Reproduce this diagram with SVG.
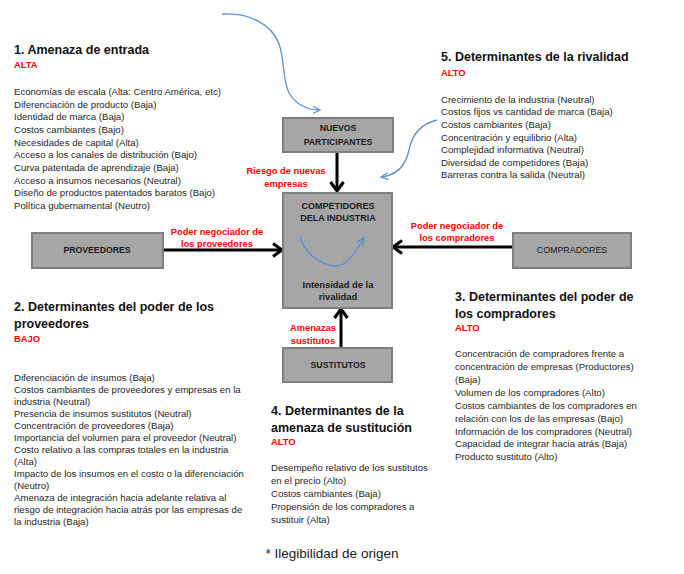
<svg xmlns="http://www.w3.org/2000/svg" width="684" height="574" viewBox="0 0 684 574">
<style>
text{font-family:"Liberation Sans",Arial,sans-serif}
.h{font-size:12.5px;font-weight:bold;fill:#111}
.r{font-size:9.4px;font-weight:bold;fill:#ff0000}
.i{font-size:9.6px;fill:#262626}
.lbl{font-size:9.3px;font-weight:bold;fill:#ff0000;text-anchor:middle}
.box{fill:#a6a6a6;stroke:#7f7f7f;stroke-width:2}
.bt{font-size:8.7px;font-weight:bold;fill:#1a1a1a;text-anchor:middle}
.ct{font-size:9px;font-weight:bold;fill:#1a1a1a;text-anchor:middle}
.arr{stroke:#000;stroke-width:3;fill:none}
.blue{stroke:#5b8fd4;stroke-width:1.3;fill:none}
</style>
<defs>
<marker id="ah" markerUnits="userSpaceOnUse" markerWidth="14" markerHeight="16" refX="11" refY="8" orient="auto">
<path d="M2,1.5 L11,8 L2,14.5" fill="none" stroke="#000" stroke-width="3"/>
</marker>
<marker id="bh" markerUnits="userSpaceOnUse" markerWidth="10" markerHeight="10" refX="8" refY="5" orient="auto">
<path d="M1,1.5 L8,5 L1,8.5" fill="none" stroke="#5b8fd4" stroke-width="1.3"/>
</marker>
</defs>

<g id="connectors">
<line class="arr" x1="337" y1="153" x2="337" y2="191" marker-end="url(#ah)"/>
<line class="arr" x1="164" y1="250" x2="282" y2="250" marker-end="url(#ah)"/>
<line class="arr" x1="512" y1="247" x2="393" y2="247" marker-end="url(#ah)"/>
<line class="arr" x1="341" y1="347" x2="341" y2="309" marker-end="url(#ah)"/>
<path class="blue" d="M222,14 C250,12 272,25 279,44 C285,60 282,78 289,93 C297,106 308,110 320,110" marker-end="url(#bh)"/>
<path class="blue" d="M437,120 C420,124 412,135 409,150 C406,165 398,175 381,177" marker-end="url(#bh)"/>
<text class="lbl" x="286" y="174">Riesgo de nuevas</text>
<text class="lbl" x="286" y="187">empresas</text>
<text class="lbl" x="217" y="234.5">Poder negociador de</text>
<text class="lbl" x="217" y="246.5">los proveedores</text>
<text class="lbl" x="457" y="228.5">Poder negociador de</text>
<text class="lbl" x="457" y="240.5">los compradores</text>
<text class="lbl" x="313" y="330.5">Amenazas</text>
<text class="lbl" x="313" y="343.5">sustitutos</text>
</g>

<g id="nuevos">
<rect class="box" x="283" y="118" width="110" height="34"/>
<text class="bt" x="338" y="131">NUEVOS</text>
<text class="bt" x="338" y="145">PARTICIPANTES</text>
</g>

<g id="competidores">
<rect class="box" x="283" y="193" width="109" height="115"/>
<text class="ct" x="338" y="209">COMPETIDORES</text>
<text class="ct" x="338" y="221">DELA INDUSTRIA</text>
<path class="blue" d="M300,237 C304,252 320,265 335,266 C349,266 356,250 364,238" marker-end="url(#bh)"/>
<text class="ct" style="font-size:9.4px" x="338" y="288">Intensidad de la</text>
<text class="ct" style="font-size:9.4px" x="338" y="300">rivalidad</text>
</g>

<g id="proveedores">
<rect class="box" x="32" y="233" width="131" height="35"/>
<text class="bt" x="97" y="253">PROVEEDORES</text>
</g>

<g id="compradores">
<rect class="box" x="513" y="233" width="118" height="35"/>
<text class="bt" style="font-weight:normal;font-size:8.9px" x="572" y="253">COMPRADORES</text>
</g>

<g id="sustitutos">
<rect class="box" x="283" y="348" width="109" height="34"/>
<text class="bt" x="338" y="368">SUSTITUTOS</text>
</g>

<g id="sec1">
<text class="h" x="14" y="54">1. Amenaza de entrada</text>
<text class="r" x="14" y="68">ALTA</text>
<text class="i" x="14" y="95">Economías de escala (Alta: Centro América, etc)</text>
<text class="i" x="14" y="107.7">Diferenciación de producto (Baja)</text>
<text class="i" x="14" y="120.3">Identidad de marca (Baja)</text>
<text class="i" x="14" y="133">Costos cambiantes (Bajo)</text>
<text class="i" x="14" y="145.6">Necesidades de capital (Alta)</text>
<text class="i" x="14" y="158.3">Acceso a los canales de distribución (Bajo)</text>
<text class="i" x="14" y="170.9">Curva patentada de aprendizaje (Baja)</text>
<text class="i" x="14" y="183.6">Acceso a insumos necesarios (Neutral)</text>
<text class="i" x="14" y="196.2">Diseño de productos patentados baratos (Bajo)</text>
<text class="i" x="14" y="208.9">Política gubernamental (Neutro)</text>
</g>

<g id="sec5">
<text class="h" x="441" y="61">5. Determinantes de la rivalidad</text>
<text class="r" x="441" y="76">ALTO</text>
<text class="i" x="441" y="102.8">Crecimiento de la industria (Neutral)</text>
<text class="i" x="441" y="115.4">Costos fijos  vs cantidad de marca (Baja)</text>
<text class="i" x="441" y="128">Costos cambiantes (Baja)</text>
<text class="i" x="441" y="140.6">Concentración y equilibrio (Alta)</text>
<text class="i" x="441" y="153.2">Complejidad informativa (Neutral)</text>
<text class="i" x="441" y="165.8">Diversidad de competidores (Baja)</text>
<text class="i" x="441" y="178.4">Barreras contra la salida (Neutral)</text>
</g>

<g id="sec2">
<text class="h" x="14" y="311">2. Determinantes del poder de los</text>
<text class="h" x="14" y="328">proveedores</text>
<text class="r" x="14" y="342">BAJO</text>
<text class="i" x="14" y="381">Diferenciación de insumos (Baja)</text>
<text class="i" x="14" y="393">Costos cambiantes de proveedores y empresas en la</text>
<text class="i" x="14" y="405">industria (Neutral)</text>
<text class="i" x="14" y="417">Presencia de insumos sustitutos (Neutral)</text>
<text class="i" x="14" y="429">Concentración de proveedores (Baja)</text>
<text class="i" x="14" y="441">Importancia del volumen para el proveedor (Neutral)</text>
<text class="i" x="14" y="453">Costo relativo a las compras totales en la industria</text>
<text class="i" x="14" y="465">(Alta)</text>
<text class="i" x="14" y="477">Impacto de los insumos en el costo o la diferenciación</text>
<text class="i" x="14" y="489">(Neutro)</text>
<text class="i" x="14" y="501">Amenaza de integración hacia adelante relativa al</text>
<text class="i" x="14" y="513">riesgo de integración hacia atrás por las empresas de</text>
<text class="i" x="14" y="525">la industria (Baja)</text>
</g>

<g id="sec3">
<text class="h" x="455" y="301">3. Determinantes del poder de</text>
<text class="h" x="455" y="318">los compradores</text>
<text class="r" x="455" y="331">ALTO</text>
<text class="i" x="455" y="356.5">Concentración de compradores frente a</text>
<text class="i" x="455" y="369.5">concentración de empresas (Productores)</text>
<text class="i" x="455" y="382.5">(Baja)</text>
<text class="i" x="455" y="395.5">Volumen de los compradores (Alto)</text>
<text class="i" x="455" y="408.5">Costos cambiantes de los compradores en</text>
<text class="i" x="455" y="421.5">relación con  los de las empresas (Bajo)</text>
<text class="i" x="455" y="434.5">Información de los compradores (Neutral)</text>
<text class="i" x="455" y="447">Capacidad de integrar hacia atrás (Baja)</text>
<text class="i" x="455" y="460">Producto sustituto (Alto)</text>
</g>

<g id="sec4">
<text class="h" x="271" y="415">4. Determinantes de la</text>
<text class="h" x="271" y="432">amenaza de sustitución</text>
<text class="r" x="271" y="445">ALTO</text>
<text class="i" x="271" y="471">Desempeño relativo de los sustitutos</text>
<text class="i" x="271" y="484">en el precio (Alto)</text>
<text class="i" x="271" y="497">Costos cambiantes (Baja)</text>
<text class="i" x="271" y="510">Propensión de los compradores a</text>
<text class="i" x="271" y="523">sustituir (Alta)</text>
</g>

<text x="332" y="558" text-anchor="middle" style="font-size:13.5px;fill:#1a1a1a">* Ilegibilidad de origen</text>
</svg>
